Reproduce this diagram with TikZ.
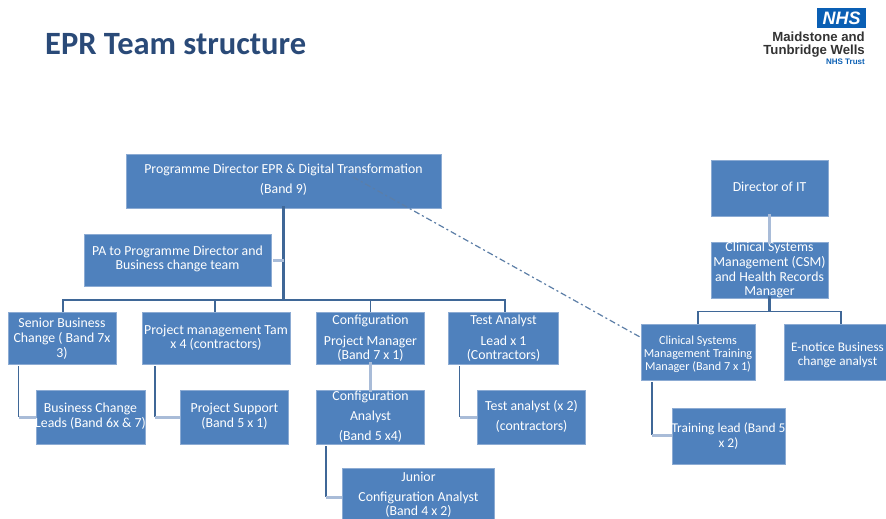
\documentclass[tikz,border=0pt]{standalone}
\usepackage{fontspec}
\setmainfont{Carlito}
\newfontfamily\logofont{Liberation Sans}
\definecolor{boxfill}{HTML}{4F81BD}
\definecolor{boxedge}{HTML}{8CABD3}
\definecolor{darkline}{HTML}{3F6797}
\definecolor{lightline}{HTML}{A9BCD8}
\definecolor{titleblue}{HTML}{2A4A78}
\definecolor{nhsblue}{HTML}{0A5FB4}
\newcommand{\tx}[3]{\makebox[0pt]{\smash{\raisebox{-#2pt}{\pgfmathsetmacro\arraystretch{#1/13}\begin{tabular}{@{}c@{}}#3\end{tabular}}}}}
\tikzset{
  ebox/.style={draw=boxedge,line width=0.7pt,fill=boxfill,text=white,inner sep=0pt,font=\fontsize{13.8}{13}\selectfont},
  darkconn/.style={draw=darkline,line width=1.6pt},
  stemconn/.style={draw=darkline,line width=3pt},
  lightconn/.style={draw=lightline,line width=3pt},
  dotconn/.style={draw=darkline!85!white,line width=1.2pt,dash pattern=on 6pt off 3pt on 2pt off 3pt},
  logotext/.style={anchor=east,inner sep=0pt,text=black!80,font=\logofont\bfseries\fontsize{13.2}{14}\selectfont}
}
\newcommand{\elbow}[3]{% parent, child, elbow coordinate
  \draw[darkconn] ([yshift=-2pt]#3 |- #1.south) -- (#3);
  \draw[lightconn] (#3) -- (#3 -| #2.west);}
\begin{document}
\begin{tikzpicture}[x=1pt,y=-1pt]
\useasboundingbox (0,0) rectangle (886,519);
\clip (0,0) rectangle (886,519);
\fill[white] (0,0) rectangle (886,519);

% title and logo
\node[anchor=west,inner sep=0pt,text=titleblue,font=\bfseries\fontsize{32.5}{36}\selectfont] (title) at (45,44) {EPR Team structure};
\node[fill=nhsblue,text=white,inner sep=0pt,minimum width=49pt,minimum height=20pt,font=\logofont\bfseries\itshape\fontsize{18}{18}\selectfont] (nhs) at (841.5,18) {NHS};
\node[logotext] (trust1) at (865,37) {Maidstone and};
\node[logotext] (trust2) at (865,51) {Tunbridge Wells};
\node[logotext,text=nhsblue,font=\logofont\bfseries\fontsize{8}{9}\selectfont] (trust3) at (865,62) {NHS Trust};

% boxes
\node[ebox,minimum width=315pt,minimum height=54pt] (prog) at (283.5,181) {\tx{20}{2.5}{Programme Director EPR \& Digital Transformation\\(Band 9)}};
\node[ebox,minimum width=187pt,minimum height=52pt] (pa) at (177.5,260) {\tx{14}{3.5}{PA to Programme Director and\\Business change team}};
\node[ebox,minimum width=108pt,minimum height=52pt] (sbc) at (62,338) {\tx{15}{5.5}{Senior Business\\Change ( Band 7x\\3)}};
\node[ebox,minimum width=148pt,minimum height=52pt] (pmt) at (216,338) {\tx{14}{4.5}{Project management Tam\\x 4 (contractors)}};
\node[ebox,minimum width=108.5pt,minimum height=52pt] (cpm) at (370.5,338) {\tx{14}{4.5}{Configuration\\[7pt]Project Manager\\(Band 7 x 1)}};
\node[ebox,minimum width=110.5pt,minimum height=52pt] (tal) at (503.5,338) {\tx{14}{4.5}{Test Analyst\\[7pt]Lead x 1\\(Contractors)}};
\node[ebox,minimum width=109pt,minimum height=54pt] (bcl) at (90.5,417) {\tx{15}{3.5}{Business Change\\Leads (Band 6x \& 7)}};
\node[ebox,minimum width=108.5pt,minimum height=54pt] (ps) at (234.5,417) {\tx{15}{3.5}{Project Support\\(Band 5 x 1)}};
\node[ebox,minimum width=108.5pt,minimum height=54pt] (ca) at (370.5,417) {\tx{20}{3.5}{Configuration\\Analyst\\(Band 5 x4)}};
\node[ebox,minimum width=108.5pt,minimum height=54pt] (ta) at (531.5,417) {\tx{20}{3.5}{Test analyst (x 2)\\(contractors)}};
\node[ebox,minimum width=152.5pt,minimum height=54pt] (jca) at (418.5,495) {\tx{14}{4.5}{Junior\\[6pt]Configuration Analyst\\(Band 4 x 2)}};
\node[ebox,minimum width=117pt,minimum height=56pt] (dir) at (769.5,188) {\tx{14}{4.5}{Director of IT}};
\node[ebox,minimum width=117pt,minimum height=56pt] (csm) at (769.5,270) {\tx{14.6}{4.5}{Clinical Systems\\Management (CSM)\\and Health Records\\Manager}};
\node[ebox,minimum width=114pt,minimum height=56pt,font=\fontsize{12.2}{13}\selectfont] (csmt) at (698,352) {\tx{13}{5.5}{Clinical Systems\\Management Training\\Manager (Band 7 x 1)}};
\node[ebox,minimum width=114pt,minimum height=56pt,font=\fontsize{13.2}{13}\selectfont] (enot) at (841,352) {\kern-3.5pt\tx{14}{6.5}{E-notice Business\\change analyst}\kern3.5pt};
\node[ebox,minimum width=113pt,minimum height=56pt,font=\fontsize{13.4}{13}\selectfont] (train) at (728.5,436) {\tx{15}{4.5}{Training lead (Band 5\\x 2)}};

% connection points
\coordinate (busy) at (0,300);
\coordinate (csmbus) at (0,311.5);
\coordinate (dashstart) at (353,177);
\coordinate (dashend) at (640,337);
\coordinate (e1) at (18.5,417);
\coordinate (e2) at (155,417);
\coordinate (e3) at (325.7,497);
\coordinate (e4) at (459.6,417);
\coordinate (e5) at (652,435);
\coordinate (sbcx) at (63,0);
\coordinate (pmtx) at (215,0);
\coordinate (talx) at (505,0);

% top-left tree
\draw[stemconn] ([yshift=2pt]prog.south) -- (prog.south |- busy);
\draw[lightconn] ([xshift=2pt]pa.east) -- (pa.east -| prog.south);
\draw[darkconn] (sbcx |- sbc.north) -- (sbcx |- busy) -- (talx |- busy) -- (talx |- tal.north);
\draw[darkconn] (pmtx |- busy) -- (pmtx |- pmt.north);
\draw[darkconn] (cpm.north |- busy) -- (cpm.north);
\draw[lightconn] ([yshift=2pt]cpm.south) -- ([yshift=-2pt]ca.north);
\elbow{sbc}{bcl}{e1}
\elbow{pmt}{ps}{e2}
\elbow{ca}{jca}{e3}
\elbow{tal}{ta}{e4}

% right tree
\draw[lightconn] ([yshift=2pt]dir.south) -- ([yshift=-2pt]csm.north);
\draw[stemconn] ([yshift=2pt]csm.south) -- (csm.south |- csmbus);
\draw[darkconn] (csmt.north) -- (csmt.north |- csmbus) -- (enot.north |- csmbus) -- (enot.north);
\elbow{csmt}{train}{e5}

% dotted link
\draw[dotconn] (dashstart) -- (dashend);
\end{tikzpicture}
\end{document}
